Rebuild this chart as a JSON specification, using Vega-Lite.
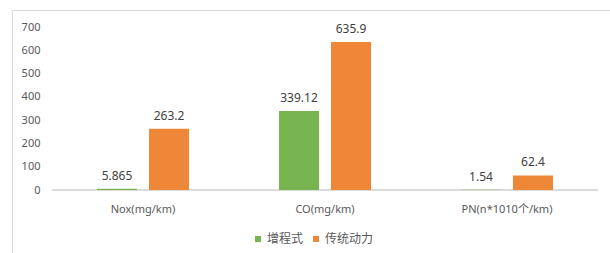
{
  "$schema": "https://vega.github.io/schema/vega-lite/v6.json",
  "width": 598,
  "height": 243,
  "autosize": {"type": "none"},
  "padding": {"left": 12, "top": 10, "right": 0, "bottom": 0},
  "background": "white",
  "config": {
    "view": {"stroke": "#d9d9d9", "strokeWidth": 1},
    "font": "Noto Sans, Noto Sans CJK SC",
    "axisY": {
      "values": [0, 100, 200, 300, 400, 500, 600, 700],
      "labelOverlap": false,
      "grid": false,
      "domain": false,
      "ticks": false,
      "offset": -40,
      "labelPadding": 12,
      "title": null,
      "labelColor": "#595959",
      "labelFontSize": 11
    }
  },
  "data": {
    "values": [
      {"cat": "Nox(mg/km)", "series": "增程式", "value": 5.865},
      {"cat": "Nox(mg/km)", "series": "传统动力", "value": 263.2},
      {"cat": "CO(mg/km)", "series": "增程式", "value": 339.12},
      {"cat": "CO(mg/km)", "series": "传统动力", "value": 635.9},
      {"cat": "PN(n*1010个/km)", "series": "增程式", "value": 1.54},
      {"cat": "PN(n*1010个/km)", "series": "传统动力", "value": 62.4}
    ]
  },
  "encoding": {
    "x": {
      "field": "cat",
      "type": "nominal",
      "sort": null,
      "scale": {"paddingInner": 0, "paddingOuter": 0.142857, "align": 0.769231},
      "axis": {
        "title": null,
        "domain": false,
        "ticks": false,
        "labelAngle": 0,
        "labelPadding": 13,
        "offset": -63,
        "labelColor": "#595959",
        "labelFontSize": 11
      }
    }
  },
  "layer": [
    {
      "mark": {"type": "bar", "stroke": "#d9d9d9", "strokeWidth": 1, "fillOpacity": 0},
      "encoding": {
        "y": {
          "datum": 0,
          "type": "quantitative",
          "scale": {"domain": [-270.55, 773.01], "nice": false, "zero": false},
          "axis": {"values": [0, 100, 200, 300, 400, 500, 600, 700], "labelOverlap": false, "tickCount": 8}
        },
        "y2": {"datum": 0}
      }
    },
    {
      "mark": {"type": "bar"},
      "encoding": {
        "xOffset": {
          "field": "series",
          "type": "nominal",
          "sort": ["增程式", "传统动力"],
          "scale": {"domain": ["增程式", "传统动力"], "paddingInner": 0.230769, "paddingOuter": 0.865385}
        },
        "y": {
          "field": "value",
          "type": "quantitative",
          "scale": {"domain": [-270.55, 773.01], "nice": false, "zero": false},
          "axis": {"values": [0, 100, 200, 300, 400, 500, 600, 700], "labelOverlap": false, "tickCount": 8}
        },
        "y2": {"datum": 0},
        "color": {
          "field": "series",
          "type": "nominal",
          "scale": {"domain": ["增程式", "传统动力"], "range": ["#77B44F", "#EE8738"]},
          "legend": {
            "orient": "none",
            "legendX": 240,
            "legendY": 223,
            "direction": "horizontal",
            "title": null,
            "symbolType": "square",
            "symbolSize": 36,
            "symbolStrokeWidth": 0,
            "labelFontSize": 12,
            "labelColor": "#595959",
            "columnPadding": 6,
            "labelOffset": 3
          }
        }
      }
    },
    {
      "mark": {"type": "text", "baseline": "bottom", "dy": -6, "fontSize": 12, "color": "#404040"},
      "encoding": {
        "xOffset": {"field": "series", "type": "nominal", "sort": ["增程式", "传统动力"]},
        "y": {
          "field": "value",
          "type": "quantitative",
          "axis": {"values": [0, 100, 200, 300, 400, 500, 600, 700], "labelOverlap": false, "tickCount": 8}
        },
        "text": {"field": "value", "type": "quantitative"}
      }
    }
  ]
}
